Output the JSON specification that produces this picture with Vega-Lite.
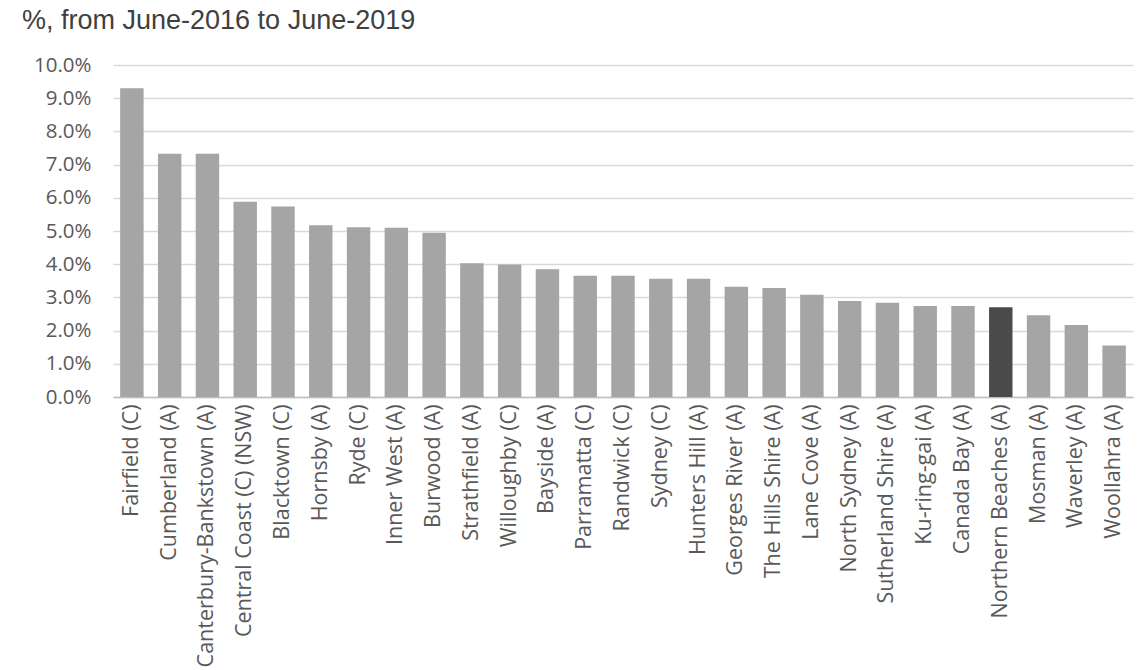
{
  "$schema": "https://vega.github.io/schema/vega-lite/v6.json",
  "autosize": {"type": "none"},
  "width": 1020,
  "height": 332,
  "padding": {"left": 113, "top": 65, "right": 12, "bottom": 273},
  "background": "white",
  "title": {
    "text": "%, from June-2016 to June-2019",
    "anchor": "start",
    "frame": "group",
    "baseline": "alphabetic",
    "dx": -91,
    "dy": 27,
    "offset": 26,
    "font": "Liberation Sans",
    "fontSize": 27,
    "fontWeight": "normal",
    "color": "#404040"
  },
  "data": {
    "values": [
      {"council": "Fairfield (C)", "growth": 0.0930},
      {"council": "Cumberland (A)", "growth": 0.0733},
      {"council": "Canterbury-Bankstown (A)", "growth": 0.0733},
      {"council": "Central Coast (C) (NSW)", "growth": 0.0588},
      {"council": "Blacktown (C)", "growth": 0.0574},
      {"council": "Hornsby (A)", "growth": 0.0517},
      {"council": "Ryde (C)", "growth": 0.0511},
      {"council": "Inner West (A)", "growth": 0.0510},
      {"council": "Burwood (A)", "growth": 0.0495},
      {"council": "Strathfield (A)", "growth": 0.0403},
      {"council": "Willoughby (C)", "growth": 0.0399},
      {"council": "Bayside (A)", "growth": 0.0385},
      {"council": "Parramatta (C)", "growth": 0.0365},
      {"council": "Randwick (C)", "growth": 0.0365},
      {"council": "Sydney (C)", "growth": 0.0356},
      {"council": "Hunters Hill (A)", "growth": 0.0356},
      {"council": "Georges River (A)", "growth": 0.0332},
      {"council": "The Hills Shire (A)", "growth": 0.0328},
      {"council": "Lane Cove (A)", "growth": 0.0308},
      {"council": "North Sydney (A)", "growth": 0.0289},
      {"council": "Sutherland Shire (A)", "growth": 0.0284},
      {"council": "Ku-ring-gai (A)", "growth": 0.0274},
      {"council": "Canada Bay (A)", "growth": 0.0274},
      {"council": "Northern Beaches (A)", "growth": 0.0270},
      {"council": "Mosman (A)", "growth": 0.0246},
      {"council": "Waverley (A)", "growth": 0.0217},
      {"council": "Woollahra (A)", "growth": 0.0155}
    ]
  },
  "mark": {"type": "bar"},
  "encoding": {
    "x": {
      "field": "council",
      "type": "nominal",
      "sort": null,
      "scale": {"paddingInner": 0.38, "paddingOuter": 0.19},
      "axis": {
        "title": null,
        "labelAngle": -90,
        "labelAlign": "right",
        "labelBaseline": "middle",
        "labelPadding": 7,
        "labelFont": "Open Sans",
        "labelFontSize": 21.5,
        "labelColor": "#595959",
        "labelLimit": 300,
        "ticks": false,
        "domainColor": "#BFBFBF",
        "domainWidth": 1.5,
        "grid": false
      }
    },
    "y": {
      "field": "growth",
      "type": "quantitative",
      "scale": {"domain": [0, 0.1], "nice": false},
      "axis": {
        "title": null,
        "format": ".1%",
        "values": [0, 0.01, 0.02, 0.03, 0.04, 0.05, 0.06, 0.07, 0.08, 0.09, 0.1],
        "labelFont": "Open Sans",
        "labelFontSize": 20.5,
        "labelColor": "#595959",
        "labelPadding": 22,
        "ticks": false,
        "domain": false,
        "grid": true,
        "gridColor": "#D9D9D9",
        "gridWidth": 1.3
      }
    },
    "color": {
      "condition": {"test": "datum.council === 'Northern Beaches (A)'", "value": "#4A4A4A"},
      "value": "#A5A5A5"
    }
  },
  "config": {"view": {"stroke": null}}
}
